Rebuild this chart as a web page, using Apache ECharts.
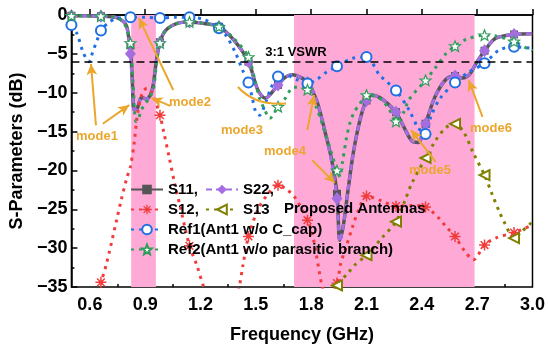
<!DOCTYPE html>
<html>
<head>
<meta charset="utf-8">
<script src="https://cdn.jsdelivr.net/npm/echarts@6/dist/echarts.min.js"></script>
<style>
html, body { margin: 0; padding: 0; background: #fff; }
#chart { width: 548px; height: 350px; }
</style>
</head>
<body>
<div id="chart"></div>
<script>
// values: frequency (GHz) / level (dB)
var s11F = [0.50, 0.58, 0.66, 0.74, 0.78, 0.80, 0.81, 0.82, 0.83, 0.84, 0.857, 0.88, 0.905, 0.93, 0.945, 0.96, 0.98, 1.01, 1.07, 1.14, 1.22, 1.30, 1.38, 1.46, 1.51, 1.55, 1.62, 1.66, 1.70, 1.74, 1.78, 1.83, 1.88, 1.91, 1.94, 1.955, 1.975, 2.00, 2.03, 2.07, 2.10, 2.13, 2.17, 2.21, 2.26, 2.30, 2.35, 2.38, 2.42, 2.47, 2.53, 2.58, 2.62, 2.66, 2.70, 2.74, 2.80, 2.90, 3.00];
var s11V = [-0.1, -0.1, -0.15, -0.3, -0.8, -1.5, -2.8, -3.9, -8.5, -12.2, -12.0, -10.6, -10.8, -10.2, -8.8, -6.0, -3.5, -2.0, -1.1, -0.9, -1.1, -1.5, -3.2, -6.0, -9.6, -10.7, -9.0, -8.0, -7.7, -8.0, -8.7, -11.0, -15.5, -18.5, -23.0, -29.0, -27.0, -22.5, -17.5, -13.0, -11.0, -10.3, -10.6, -11.3, -12.5, -14.3, -16.3, -16.4, -14.0, -10.6, -8.3, -7.85, -8.1, -7.6, -6.0, -4.6, -3.0, -2.5, -2.4];
var s22V = [-0.1, -0.1, -0.15, -0.3, -0.8, -1.6, -3.2, -5.0, -9.0, -12.2, -12.0, -10.6, -10.8, -10.2, -8.8, -6.0, -3.5, -2.0, -1.1, -0.9, -1.1, -1.5, -3.2, -6.0, -9.6, -10.7, -9.0, -8.0, -7.7, -8.0, -8.7, -11.0, -15.5, -18.8, -23.6, -29.2, -27.0, -22.5, -17.5, -13.0, -11.0, -10.3, -10.6, -11.3, -12.5, -14.3, -16.3, -16.4, -14.0, -10.6, -8.3, -7.85, -8.1, -7.6, -6.0, -4.6, -3.0, -2.5, -2.4];

var s12F = [0.50, 0.62, 0.66, 0.69, 0.745, 0.77, 0.80, 0.82, 0.84, 0.86, 0.885, 0.91, 0.94, 0.98, 1.00, 1.03, 1.06, 1.09, 1.14, 1.18, 1.22, 1.30, 1.38, 1.41, 1.43, 1.46, 1.51, 1.56, 1.62, 1.67, 1.71, 1.78, 1.81, 1.84, 1.86, 1.89, 1.94, 1.96, 1.99, 2.025, 2.06, 2.10, 2.18, 2.26, 2.34, 2.42, 2.495, 2.53, 2.58, 2.63, 2.68, 2.74, 2.80, 2.90, 3.00];
var s12V = [-42, -37, -34.4, -32.0, -26.4, -23.8, -21.0, -19.5, -16.5, -12.5, -10.0, -9.4, -10.2, -12.9, -15.0, -18.3, -21.7, -24.7, -29.7, -32.2, -35.2, -40, -38, -35.0, -32.2, -28.5, -25.1, -23.2, -21.9, -22.5, -23.4, -26.4, -28.6, -32.5, -35.0, -37, -34.5, -32.0, -29.8, -27.2, -24.9, -23.3, -23.9, -24.6, -24.5, -24.7, -26.2, -27.2, -28.5, -30.3, -31.5, -29.6, -28.7, -28.0, -27.0];

var s13F = [1.80, 1.88, 1.94, 2.00, 2.035, 2.10, 2.19, 2.26, 2.31, 2.345, 2.42, 2.476, 2.53, 2.58, 2.63, 2.68, 2.74, 2.78, 2.82, 2.85, 2.90, 2.94, 3.00];
var s13V = [-42, -38, -34.8, -33.2, -32.2, -30.9, -28.5, -26.6, -23.8, -21.7, -18.4, -16.1, -14.5, -14.0, -15.2, -17.8, -20.6, -23.0, -25.3, -26.8, -28.7, -27.9, -26.6];

var ref1F = [0.50, 0.53, 0.565, 0.595, 0.615, 0.64, 0.66, 0.70, 0.75, 0.82, 0.90, 0.98, 1.06, 1.14, 1.22, 1.30, 1.34, 1.39, 1.43, 1.46, 1.48, 1.50, 1.52, 1.55, 1.58, 1.62, 1.66, 1.72, 1.78, 1.83, 1.88, 1.94, 2.02, 2.10, 2.17, 2.26, 2.33, 2.38, 2.42, 2.45, 2.50, 2.58, 2.65, 2.74, 2.82, 2.90, 3.00];
var ref1V = [-1.3, -2.4, -4.9, -6.0, -4.8, -3.2, -2.0, -1.0, -0.4, -0.3, -0.3, -0.4, -0.3, -0.3, -0.6, -1.7, -2.7, -4.9, -7.2, -8.7, -10.6, -12.5, -12.9, -11.5, -9.5, -7.9, -7.7, -8.3, -8.8, -8.3, -7.4, -6.6, -5.6, -5.4, -7.7, -9.7, -12.2, -14.5, -15.3, -13.0, -10.7, -8.7, -7.4, -6.2, -4.5, -4.1, -4.3];

var ref2F = [0.50, 0.66, 0.74, 0.78, 0.80, 0.82, 0.835, 0.85, 0.865, 0.88, 0.90, 0.92, 0.945, 0.96, 0.98, 1.01, 1.07, 1.14, 1.22, 1.30, 1.38, 1.46, 1.495, 1.52, 1.548, 1.575, 1.62, 1.654, 1.707, 1.78, 1.83, 1.88, 1.94, 1.955, 1.97, 1.99, 2.01, 2.035, 2.06, 2.10, 2.17, 2.22, 2.26, 2.30, 2.33, 2.42, 2.47, 2.53, 2.58, 2.645, 2.74, 2.80, 2.90, 2.97, 3.00];
var ref2V = [-0.1, -0.15, -0.3, -0.9, -1.8, -3.6, -9.0, -13.7, -13.2, -12.2, -11.4, -10.8, -9.5, -6.5, -3.6, -2.0, -1.1, -0.9, -1.1, -1.5, -3.0, -5.4, -8.4, -10.7, -12.2, -13.3, -11.8, -10.9, -9.3, -9.6, -12.0, -15.5, -20.0, -20.8, -18.9, -16.0, -13.9, -12.4, -11.6, -10.3, -10.7, -12.0, -13.7, -12.6, -10.9, -8.4, -6.9, -5.0, -4.0, -3.1, -2.6, -2.7, -3.4, -4.3, -4.6];

// frequencies where the curves carry a symbol
var markF = [0.50, 0.66, 0.82, 0.98, 1.14, 1.30, 1.46, 1.62, 1.78, 1.94, 2.10, 2.26, 2.42, 2.58, 2.74, 2.90];
var s12Marks = [0.66, 0.98, 1.14, 1.46, 1.62, 1.78, 1.94, 2.10, 2.26, 2.42, 2.58, 2.74, 2.90];

var xTicks = [0.6, 0.9, 1.2, 1.5, 1.8, 2.1, 2.4, 2.7, 3.0];
var xMinor = [0.75, 1.05, 1.35, 1.65, 1.95, 2.25, 2.55, 2.85];
var bands = [[0.824, 0.958], [1.707, 2.686]];
var vswr = -6;

var FONT = '"Liberation Sans", Arial, sans-serif';
var ORANGE = '#eba62c';
var ASTERISK = 'path://M-0.8,-6L0.8,-6L0.8,6L-0.8,6Z M-6,-0.8L6,-0.8L6,0.8L-6,0.8Z M-3.63,-4.77L4.77,3.63L3.63,4.77L-4.77,-3.63Z M4.77,-3.63L-3.63,4.77L-4.77,3.63L3.63,-4.77Z';
var STAR = 'path://M0,-6L1.53,-2.1L5.71,-1.85L2.47,0.8L3.53,4.85L0,2.6L-3.53,4.85L-2.47,0.8L-5.71,-1.85L-1.53,-2.1Z';

function build(fs, vs, marks) {
    var out = [];
    for (var i = 0; i < fs.length; i++) {
        var on = marks.some(function (m) { return Math.abs(m - fs[i]) < 1e-6; });
        out.push(on ? [fs[i], vs[i]] : { value: [fs[i], vs[i]], symbol: 'none' });
    }
    return out;
}

function arrow(f1, v1, f2, v2) {
    return [{ coord: [f1, v1], symbol: 'none' }, { coord: [f2, v2], symbol: 'arrow', symbolSize: [8, 11] }];
}

var chart = echarts.init(document.getElementById('chart'));

var option = {
    animation: false,
    backgroundColor: '#fff',
    grid: { left: 66, right: 11, top: 15, bottom: 63, show: true, borderColor: '#000', borderWidth: 1.5 },
    xAxis: [{
        type: 'value', min: 0.5, max: 3.0,
        name: 'Frequency (GHz)', nameLocation: 'middle', nameGap: 39,
        nameTextStyle: { fontFamily: FONT, fontWeight: 'bold', fontSize: 18, color: '#000' },
        axisLine: { lineStyle: { color: '#000', width: 1.5 } },
        axisTick: { inside: true, length: 6, customValues: xTicks, lineStyle: { color: '#000', width: 1.5 } },
        axisLabel: { customValues: xTicks, margin: 9, fontFamily: FONT, fontWeight: 'bold', fontSize: 18, color: '#000',
            formatter: function (v) { return v.toFixed(1); } },
        splitLine: { show: false }
    }, {
        type: 'value', min: 0.5, max: 3.0, position: 'bottom',
        axisLine: { show: false },
        axisTick: { inside: true, length: 3, customValues: xMinor, lineStyle: { color: '#000', width: 1.5 } },
        axisLabel: { show: false },
        splitLine: { show: false }
    }],
    yAxis: {
        type: 'value', min: -35, max: 0, interval: 5,
        name: 'S-Parameters (dB)', nameLocation: 'middle', nameGap: 40,
        nameTextStyle: { fontFamily: FONT, fontWeight: 'bold', fontSize: 18, color: '#000' },
        axisLine: { show: true, lineStyle: { color: '#000', width: 1.5 } },
        axisTick: { show: true, inside: true, length: 6, lineStyle: { color: '#000', width: 1.5 } },
        minorTick: { show: true, splitNumber: 2, length: 3, lineStyle: { color: '#000', width: 1.5 } },
        axisLabel: { margin: 4, fontFamily: FONT, fontWeight: 'bold', fontSize: 18, color: '#000',
            formatter: function (v) { return String(v).replace('-', '\u2212'); } },
        splitLine: { show: false }
    },
    legend: [{
        orient: 'vertical', left: 130, top: 182, padding: 0, itemGap: 5, itemWidth: 32, itemHeight: 12,
        selectedMode: false,
        data: ['S11', 'S12', 'Ref1(Ant1 w/o C_cap)', 'Ref2(Ant1 w/o parasitic branch)'],
        formatter: function (n) { return (n === 'S11' || n === 'S12') ? n + ',' : n; },
        textStyle: { fontFamily: FONT, fontWeight: 'bold', fontSize: 15, color: '#000' }
    }, {
        orient: 'vertical', left: 205, top: 182, padding: 0, itemGap: 5, itemWidth: 32, itemHeight: 12,
        selectedMode: false,
        data: ['S22', 'S13'],
        formatter: function (n) { return n === 'S22' ? n + ',' : n; },
        textStyle: { fontFamily: FONT, fontWeight: 'bold', fontSize: 15, color: '#000' }
    }],
    series: [{
        name: 'bands', type: 'line', z: 1, data: [], silent: true,
        markArea: {
            silent: true,
            itemStyle: { color: '#ffaad6' },
            data: bands.map(function (b) { return [{ xAxis: b[0] }, { xAxis: b[1] }]; })
        }
    }, {
        name: 'S11', type: 'line', smooth: 0.3, z: 2,
        data: build(s11F, s11V, markF),
        symbol: 'rect', symbolSize: 8,
        lineStyle: { color: '#555555', width: 3.5 },
        itemStyle: { color: '#555555' }
    }, {
        name: 'S22', type: 'line', smooth: 0.3, z: 3,
        data: build(s11F, s22V, markF),
        symbol: 'diamond', symbolSize: [11, 13],
        lineStyle: { color: '#a46ee0', width: 3, type: [6, 4] },
        itemStyle: { color: '#a46ee0' }
    }, {
        name: 'S12', type: 'line', smooth: 0.3, z: 3,
        data: build(s12F, s12V, s12Marks),
        symbol: ASTERISK, symbolSize: 11,
        lineStyle: { color: '#f23c3c', width: 3, type: [3, 5] },
        itemStyle: { color: '#f23c3c' }
    }, {
        name: 'S13', type: 'line', smooth: 0.3, z: 3,
        data: build(s13F, s13V, markF),
        symbol: 'emptyTriangle', symbolSize: 10, symbolRotate: 90,
        lineStyle: { color: '#808000', width: 3, type: [3, 5] },
        itemStyle: { color: '#808000', borderWidth: 1.3 }
    }, {
        name: 'Ref1(Ant1 w/o C_cap)', type: 'line', smooth: 0.3, z: 3,
        data: build(ref1F, ref1V, markF),
        symbol: 'emptyCircle', symbolSize: 10,
        lineStyle: { color: '#1f6fe5', width: 3, type: [3, 5] },
        itemStyle: { color: '#1f6fe5', borderWidth: 1.3 }
    }, {
        name: 'Ref2(Ant1 w/o parasitic branch)', type: 'line', smooth: 0.3, z: 3,
        data: build(ref2F, ref2V, markF),
        symbol: STAR, symbolSize: 11, symbolKeepAspect: true,
        lineStyle: { color: '#2e9e5b', width: 3, type: [3, 5] },
        itemStyle: { color: '#ffffff', borderColor: '#2e9e5b', borderWidth: 1.2 }
    }, {
        name: 'notes', type: 'line', z: 6, data: [], silent: true,
        markLine: {
            silent: true, animation: false,
            symbol: ['none', 'none'],
            label: { show: false },
            lineStyle: { color: ORANGE, width: 2, type: 'solid' },
            data: [
                { yAxis: vswr, lineStyle: { color: '#000', width: 1.5, type: [8, 5] } },
                arrow(0.633, -14.2, 0.606, -6.3),
                arrow(0.670, -14.0, 0.813, -11.6),
                arrow(1.052, -9.65, 0.866, -0.4),
                arrow(1.036, -11.7, 0.935, -10.7),
                arrow(1.806, -18.7, 1.928, -21.6),
                arrow(1.779, -14.8, 1.816, -10.3),
                arrow(2.475, -18.9, 2.342, -14.8),
                arrow(2.729, -13.1, 2.655, -8.4)
            ]
        }
    }],
    graphic: [
        { type: 'text', x: 296, y: 52, z: 100, style: { text: '3:1 VSWR', align: 'center', verticalAlign: 'middle', font: 'bold 13px ' + FONT, fill: '#000' } },
        { type: 'text', x: 284, y: 209, z: 100, style: { text: 'Proposed Antennas', align: 'left', verticalAlign: 'middle', font: 'bold 15px ' + FONT, fill: '#000' } },
        { type: 'text', x: 97, y: 136, z: 100, style: { text: 'mode1', align: 'center', verticalAlign: 'middle', font: 'bold 13px ' + FONT, fill: ORANGE } },
        { type: 'text', x: 190, y: 102, z: 100, style: { text: 'mode2', align: 'center', verticalAlign: 'middle', font: 'bold 13px ' + FONT, fill: ORANGE } },
        { type: 'text', x: 242, y: 130, z: 100, style: { text: 'mode3', align: 'center', verticalAlign: 'middle', font: 'bold 13px ' + FONT, fill: ORANGE } },
        { type: 'text', x: 285, y: 151, z: 100, style: { text: 'mode4', align: 'center', verticalAlign: 'middle', font: 'bold 13px ' + FONT, fill: ORANGE } },
        { type: 'text', x: 430, y: 170, z: 100, style: { text: 'mode5', align: 'center', verticalAlign: 'middle', font: 'bold 13px ' + FONT, fill: ORANGE } },
        { type: 'text', x: 491, y: 128, z: 100, style: { text: 'mode6', align: 'center', verticalAlign: 'middle', font: 'bold 13px ' + FONT, fill: ORANGE } },
        { type: 'bezierCurve', z: 100, shape: { x1: 238, y1: 87, cpx1: 255, cpy1: 106, x2: 286, y2: 103.5 },
            style: { stroke: ORANGE, lineWidth: 2, fill: null } }
    ]
};

chart.setOption(option);
</script>
</body>
</html>
